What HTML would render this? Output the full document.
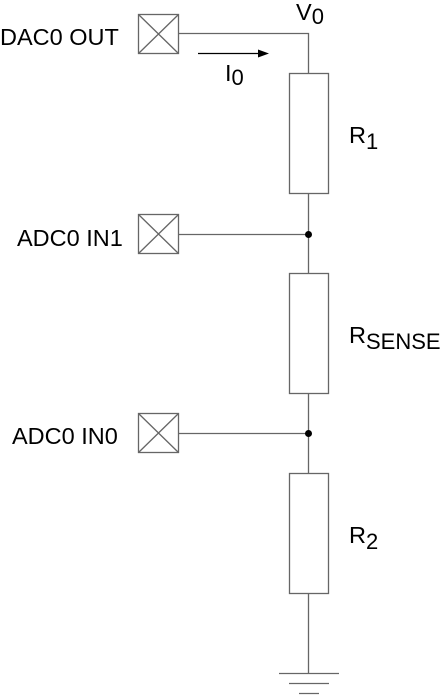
<html><body style="margin:0;background:#fff">
<svg width="447" height="695" xmlns="http://www.w3.org/2000/svg" font-family="Liberation Sans, sans-serif" font-size="23.5" fill="#000">
<g stroke="#666" stroke-width="1.3" fill="none">
<rect x="138.5" y="14.5" width="40" height="39"/><path d="M138.5 14.5L178.5 53.5M178.5 14.5L138.5 53.5"/>
<rect x="138.5" y="214.5" width="40" height="39"/><path d="M138.5 214.5L178.5 253.5M178.5 214.5L138.5 253.5"/>
<rect x="138.5" y="413.5" width="40" height="39"/><path d="M138.5 413.5L178.5 452.5M178.5 413.5L138.5 452.5"/>
<path d="M178.5 33.5H308.5V73.5M308.5 193.5V273.5M308.5 393.5V473.5M308.5 593.5V673.5M178.5 234.5H308.5M178.5 433.5H308.5"/>
<rect x="289.5" y="73.5" width="39" height="120"/>
<rect x="289.5" y="273.5" width="39" height="120"/>
<rect x="289.5" y="473.5" width="39" height="120"/>
<path d="M279 673.5H339M289 683.5H329M299 693.5H319"/>
</g>
<circle cx="308.5" cy="234.5" r="3.5"/><circle cx="308.5" cy="433.5" r="3.5"/>
<path d="M198 53.5H260" stroke="#000" stroke-width="1.3"/><path d="M258 49.5L269 53.5L258 57.5Z"/>
<text x="0" y="45">DAC0 OUT</text>
<text x="17" y="246">ADC0 IN1</text>
<text x="12" y="444">ADC0 IN0</text>
<text x="296" y="20">V<tspan font-size="22" dy="4">0</tspan></text>
<text x="225" y="81">I<tspan font-size="22" dy="4">0</tspan></text>
<text x="349" y="143">R<tspan font-size="22" dy="6">1</tspan></text>
<text x="349" y="343">R<tspan font-size="22" dy="6">SENSE</tspan></text>
<text x="349" y="543">R<tspan font-size="22" dy="6">2</tspan></text>
</svg>
</body></html>
